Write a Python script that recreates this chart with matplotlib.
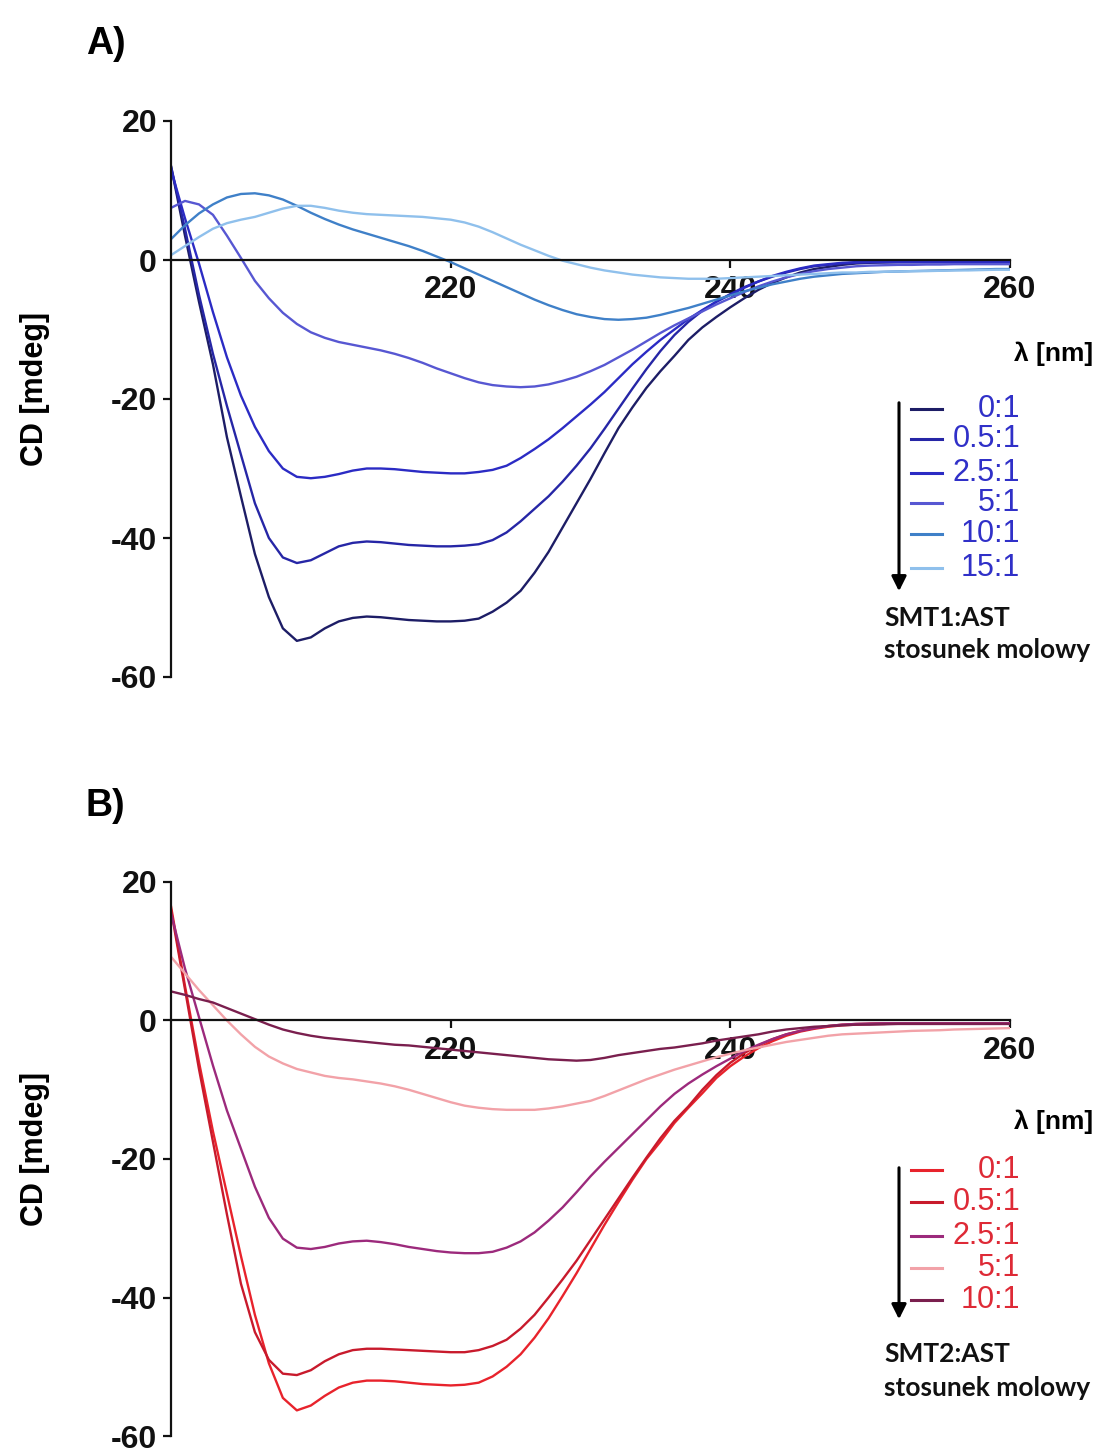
import numpy as np
import matplotlib
matplotlib.use('Agg')
import matplotlib.pyplot as plt
from matplotlib.lines import Line2D

plt.rcParams['font.family'] = ['Liberation Sans', 'DejaVu Sans']

W, H = 1107, 1456

# wavelength grid [nm]
wl = np.arange(200, 261)

# SMT1:AST titration (panel A), CD in mdeg
ratios_a = ['0:1', '0.5:1', '2.5:1', '5:1', '10:1', '15:1']
a_0 = [13.5, 3.5, -6, -15, -25.5, -34, -42.3, -48.5, -53, -54.8,
       -54.3, -53, -52, -51.5, -51.3, -51.4, -51.6, -51.8, -51.9, -52,
       -52, -51.9, -51.6, -50.6, -49.3, -47.6, -45, -42, -38.5, -35,
       -31.5, -27.8, -24.2, -21.2, -18.4, -16, -13.8, -11.5, -9.7, -8.2,
       -6.8, -5.5, -4.3, -3.3, -2.5, -1.8, -1.3, -1, -0.7, -0.5,
       -0.4, -0.35, -0.3, -0.3, -0.3, -0.3, -0.3, -0.3, -0.3, -0.3, -0.3]
a_05 = [13.5, 4.5, -5, -13.5, -21, -28, -35, -40, -42.8, -43.6,
        -43.2, -42.2, -41.2, -40.7, -40.5, -40.6, -40.8, -41, -41.1, -41.2,
        -41.2, -41.1, -40.9, -40.3, -39.2, -37.6, -35.8, -34, -31.9, -29.6,
        -27.1, -24.3, -21.4, -18.5, -15.7, -13.1, -10.8, -8.9, -7.3, -6,
        -4.9, -3.9, -3.1, -2.4, -1.8, -1.3, -0.9, -0.7, -0.5, -0.4,
        -0.3, -0.3, -0.3, -0.3, -0.3, -0.3, -0.3, -0.3, -0.3, -0.3, -0.3]
a_25 = [13, 6, -0.5, -7.5, -14, -19.5, -24, -27.5, -30, -31.2,
        -31.4, -31.2, -30.8, -30.3, -30, -30, -30.1, -30.3, -30.5, -30.6,
        -30.7, -30.7, -30.5, -30.2, -29.6, -28.5, -27.2, -25.8, -24.2, -22.5,
        -20.8, -19, -17, -15, -13.2, -11.5, -10, -8.5, -7.2, -6,
        -5, -4, -3.1, -2.3, -1.7, -1.2, -0.8, -0.6, -0.4, -0.3,
        -0.3, -0.3, -0.3, -0.3, -0.3, -0.3, -0.3, -0.3, -0.3, -0.3, -0.3]
a_5 = [7.5, 8.5, 8, 6.5, 3.5, 0.3, -3, -5.5, -7.6, -9.2,
       -10.4, -11.2, -11.8, -12.2, -12.6, -13, -13.5, -14.1, -14.8, -15.6,
       -16.3, -17, -17.6, -18, -18.2, -18.3, -18.2, -17.9, -17.4, -16.8,
       -16, -15.1, -14, -12.9, -11.7, -10.5, -9.4, -8.4, -7.4, -6.4,
       -5.5, -4.6, -3.8, -3.1, -2.5, -2, -1.6, -1.3, -1.1, -0.9,
       -0.8, -0.75, -0.7, -0.7, -0.65, -0.65, -0.6, -0.6, -0.6, -0.6, -0.6]
a_10 = [3, 5, 6.7, 8, 9, 9.5, 9.6, 9.3, 8.7, 7.8,
        6.8, 5.9, 5.1, 4.4, 3.8, 3.2, 2.6, 2, 1.3, 0.5,
        -0.3, -1.2, -2.1, -3, -3.9, -4.8, -5.7, -6.5, -7.2, -7.8,
        -8.2, -8.5, -8.6, -8.5, -8.3, -7.9, -7.4, -6.9, -6.3, -5.7,
        -5.1, -4.5, -4, -3.5, -3.1, -2.7, -2.4, -2.2, -2, -1.9,
        -1.8, -1.7, -1.65, -1.6, -1.55, -1.5, -1.45, -1.4, -1.35, -1.3, -1.3]
a_15 = [0.7, 2, 3.3, 4.5, 5.3, 5.8, 6.2, 6.8, 7.4, 7.8,
        7.8, 7.5, 7.1, 6.8, 6.6, 6.5, 6.4, 6.3, 6.2, 6,
        5.8, 5.4, 4.8, 4, 3.1, 2.2, 1.4, 0.6, -0.1, -0.6,
        -1.1, -1.5, -1.8, -2.1, -2.3, -2.5, -2.6, -2.7, -2.7, -2.7,
        -2.6, -2.5, -2.4, -2.3, -2.2, -2.1, -2, -1.9, -1.8, -1.8,
        -1.7, -1.7, -1.65, -1.6, -1.6, -1.55, -1.5, -1.5, -1.45, -1.4, -1.4]
colors_a = ['#1d1d66', '#2626a6', '#2b2bc4', '#5757d2', '#3f80c8', '#8fc0ec']

# SMT2:AST titration (panel B)
ratios_b = ['0:1', '0.5:1', '2.5:1', '5:1', '10:1']
b_0 = [16.5, 5, -6, -16, -25, -34, -42.5, -49.5, -54.5, -56.3,
       -55.6, -54.2, -53, -52.3, -52, -52, -52.1, -52.3, -52.5, -52.6,
       -52.7, -52.6, -52.3, -51.4, -50, -48.2, -45.8, -43, -39.8, -36.5,
       -33, -29.5, -26.2, -23, -20, -17.5, -14.8, -12.6, -10.5, -8.3,
       -6.6, -5.2, -4, -3, -2.2, -1.6, -1.2, -0.9, -0.7, -0.6,
       -0.5, -0.5, -0.4, -0.4, -0.4, -0.4, -0.4, -0.4, -0.4, -0.4, -0.4]
b_05 = [16, 4.5, -7, -17.5, -28, -38, -45, -49, -51, -51.2,
        -50.5, -49.2, -48.2, -47.6, -47.4, -47.4, -47.5, -47.6, -47.7, -47.8,
        -47.9, -47.9, -47.6, -47, -46.1, -44.5, -42.5, -40, -37.4, -34.7,
        -31.7, -28.7, -25.7, -22.7, -19.8, -17, -14.5, -12.4, -10, -7.9,
        -6.1, -4.7, -3.6, -2.7, -2, -1.5, -1.1, -0.8, -0.6, -0.5,
        -0.45, -0.4, -0.4, -0.4, -0.4, -0.4, -0.4, -0.4, -0.4, -0.4, -0.4]
b_25 = [15.5, 7.5, 0.5, -6.5, -13, -18.5, -24, -28.5, -31.5, -32.8,
        -33, -32.7, -32.2, -31.9, -31.8, -32, -32.3, -32.7, -33, -33.3,
        -33.5, -33.6, -33.6, -33.4, -32.8, -31.9, -30.6, -28.9, -27, -24.8,
        -22.5, -20.4, -18.4, -16.4, -14.4, -12.4, -10.6, -9.1, -7.8, -6.6,
        -5.5, -4.4, -3.5, -2.7, -2, -1.5, -1.1, -0.8, -0.6, -0.5,
        -0.45, -0.4, -0.4, -0.4, -0.4, -0.4, -0.4, -0.4, -0.4, -0.4, -0.4]
b_5 = [9.2, 6.8, 4.4, 2.2, 0, -2, -3.8, -5.2, -6.2, -7,
       -7.5, -8, -8.3, -8.5, -8.8, -9.1, -9.5, -10, -10.6, -11.2,
       -11.8, -12.3, -12.6, -12.8, -12.9, -12.9, -12.9, -12.7, -12.4, -12,
       -11.6, -10.9, -10.1, -9.3, -8.5, -7.8, -7.1, -6.5, -5.9, -5.3,
       -4.8, -4.3, -3.9, -3.5, -3.1, -2.8, -2.5, -2.2, -2, -1.9,
       -1.8, -1.7, -1.6, -1.5, -1.45, -1.4, -1.3, -1.25, -1.2, -1.15, -1.1]
b_10 = [4.2, 3.7, 3.1, 2.6, 1.8, 1, 0.2, -0.6, -1.3, -1.8,
        -2.2, -2.5, -2.7, -2.9, -3.1, -3.3, -3.5, -3.6, -3.8, -4,
        -4.2, -4.4, -4.6, -4.8, -5, -5.2, -5.4, -5.6, -5.7, -5.8,
        -5.7, -5.4, -5, -4.7, -4.4, -4.1, -3.9, -3.6, -3.3, -2.9,
        -2.6, -2.3, -2, -1.6, -1.3, -1.1, -0.9, -0.8, -0.7, -0.6,
        -0.6, -0.55, -0.5, -0.5, -0.5, -0.5, -0.5, -0.5, -0.5, -0.5, -0.5]
colors_b = ['#e8232c', '#c81a2c', '#9c2a7c', '#f2a2a8', '#7a1f4e']

yticks = [20, 0, -20, -40, -60]
xticks = [220, 240, 260]


def fx(x):
    return x / W


def fy(y):
    return 1 - y / H


def draw_panel(top_px, bottom_px, series, colors, ratios, text_color,
               letter, letter_y, name, leg_rows, arrow_top, arrow_tip,
               lam_y, name_y):
    ax = fig.add_axes([fx(171), fy(bottom_px), fx(1010) - fx(171),
                       fy(top_px) - fy(bottom_px)])
    for vals, c in zip(series, colors):
        ax.plot(wl, vals, color=c, lw=1.7, solid_joinstyle='round')

    ax.set_xlim(200, 260)
    ax.set_ylim(-60, 20)
    ax.spines['top'].set_visible(False)
    ax.spines['right'].set_visible(False)
    ax.spines['bottom'].set_position(('data', 0))
    for s in ('left', 'bottom'):
        ax.spines[s].set_linewidth(1.6)
        ax.spines[s].set_color('#111111')
    ax.set_xticks(xticks)
    ax.set_xticklabels([str(t) for t in xticks])
    ax.set_yticks(yticks)
    ax.set_yticklabels([str(t) for t in yticks])
    ax.tick_params(axis='both', direction='out', length=6, width=1.6,
                   labelsize=23, colors='#111111')
    ax.tick_params(axis='x', pad=5)
    ax.tick_params(axis='y', pad=4)
    for lab in ax.get_xticklabels() + ax.get_yticklabels():
        lab.set_fontweight('bold')
    ax.patch.set_alpha(0)

    mid = (top_px + bottom_px) / 2 - 10
    fig.text(fx(35), fy(mid), 'CD [mdeg]', rotation=90, fontsize=22,
             fontweight='bold', ha='center', va='center')
    fig.text(fx(86), fy(letter_y), letter, fontsize=27, fontweight='bold',
             ha='left', va='baseline')
    fig.text(fx(1093), fy(lam_y), 'λ [nm]', fontsize=19, fontweight='bold',
             ha='right', va='center')

    # legend with downward arrow
    fig.add_artist(matplotlib.patches.FancyArrowPatch(
        (fx(899), fy(arrow_top)), (fx(899), fy(arrow_tip)),
        transform=fig.transFigure, arrowstyle='-|>', mutation_scale=22,
        lw=2.2, color='black'))
    for r, c, y in zip(ratios, colors, leg_rows):
        fig.add_artist(Line2D([fx(911), fx(942)], [fy(y), fy(y)],
                              transform=fig.transFigure, color=c, lw=2.2))
        fig.text(fx(1020), fy(y), r, fontsize=22, color=text_color,
                 ha='right', va='center')
    fig.text(fx(884), fy(name_y), name + '\nstosunek molowy',
             fontsize=19, fontweight='bold', family=['Lato', 'DejaVu Sans'],
             ha='left', va='center', linespacing=1.45, color='#111111')
    return ax


fig = plt.figure(figsize=(W / 100, H / 100), dpi=100)

draw_panel(121, 677, [a_0, a_05, a_25, a_5, a_10, a_15], colors_a, ratios_a,
           '#3030c8', 'A)', 54, 'SMT1:AST',
           [409, 439, 473, 503, 534, 568], 400, 594, 354, 634)

draw_panel(882, 1436, [b_0, b_05, b_25, b_5, b_10], colors_b, ratios_b,
           '#de2a36', 'B)', 816, 'SMT2:AST',
           [1170, 1202, 1236, 1268, 1300], 1165, 1322, 1122, 1371)

plt.savefig('out.png', dpi=100)
